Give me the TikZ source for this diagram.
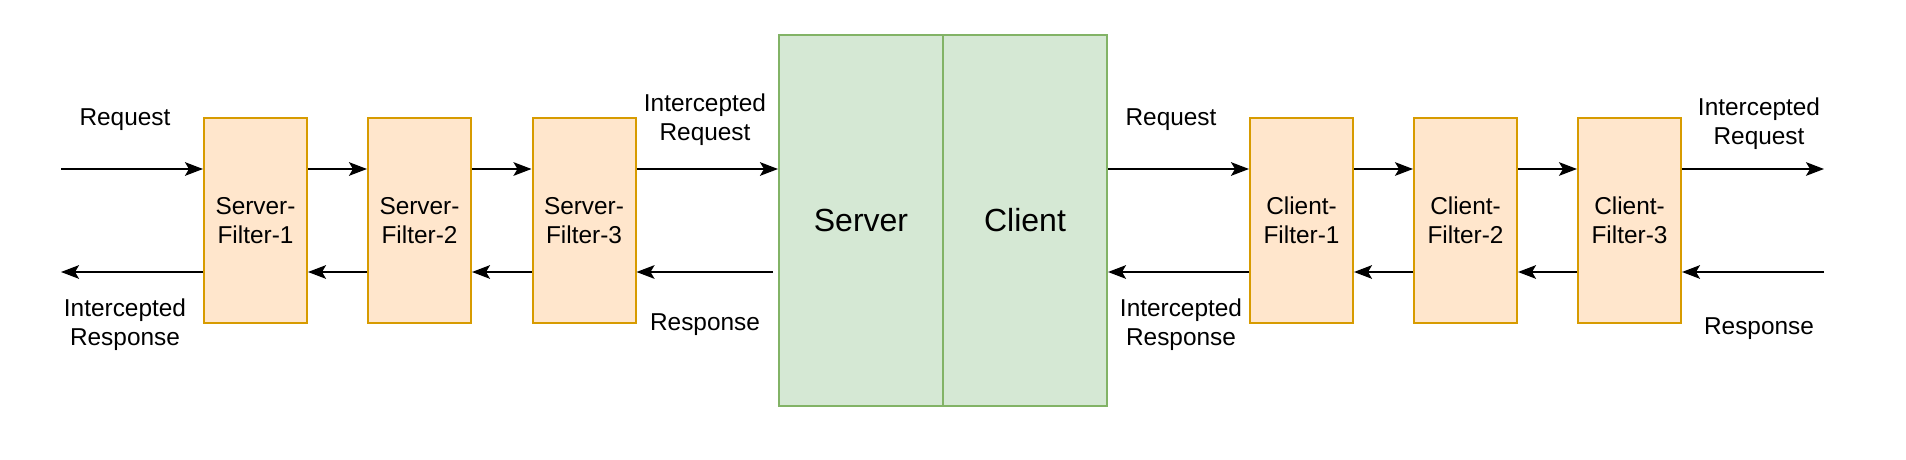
\documentclass[tikz,border=0pt]{standalone}
\usepackage{fontspec}
\setmainfont{Liberation Sans}
\usetikzlibrary{arrows.meta}
\definecolor{ofill}{HTML}{FFE6CC}
\definecolor{odraw}{HTML}{D79B00}
\definecolor{gfill}{HTML}{D5E8D4}
\definecolor{gdraw}{HTML}{82B366}
\begin{document}
\begin{tikzpicture}[x=0.5pt,y=-0.5pt,
  filterbox/.style={draw=odraw,fill=ofill,line width=1pt,minimum width=51.5pt,minimum height=102.5pt,inner sep=0pt,align=center,font=\fontsize{12.2}{14.5}\selectfont},
  mainbox/.style={draw=gdraw,fill=gfill,line width=1pt,minimum width=82pt,minimum height=185.5pt,inner sep=0pt,font=\fontsize{16}{19}\selectfont},
  lbl/.style={align=center,inner sep=0pt,font=\fontsize{12.2}{14.5}\selectfont},
  conn/.style={line width=1pt,-{Stealth[length=9pt,width=6.8pt,inset=2pt]}}]
\useasboundingbox (0,0) rectangle (1906,460);
% main boxes
\node[mainbox] (server) at (861,220.5) {Server};
\node[mainbox] (client) at (1025,220.5) {Client};
% filters
\node[filterbox] (sf1) at (255.5,220.5) {Server-\\Filter-1};
\node[filterbox] (sf2) at (419.5,220.5) {Server-\\Filter-2};
\node[filterbox] (sf3) at (584,220.5) {Server-\\Filter-3};
\node[filterbox] (cf1) at (1301.5,220.5) {Client-\\Filter-1};
\node[filterbox] (cf2) at (1465.5,220.5) {Client-\\Filter-2};
\node[filterbox] (cf3) at (1629.5,220.5) {Client-\\Filter-3};
% free ends
\coordinate (lin) at (61,169);
\coordinate (lout) at (61,272);
\coordinate (rout) at (1824,169);
\coordinate (rin) at (1824,272);
\coordinate (srvresp) at (773,272);
% request path (server side)
\draw[conn] (lin) -- ([yshift=25.75pt]sf1.west);
\draw[conn] ([yshift=25.75pt]sf1.east) -- ([yshift=25.75pt]sf2.west);
\draw[conn] ([yshift=25.75pt]sf2.east) -- ([yshift=25.75pt]sf3.west);
\draw[conn] ([yshift=25.75pt]sf3.east) -- ([yshift=25.75pt]server.west);
% response path (server side)
\draw[conn] (srvresp) -- ([yshift=-25.75pt]sf3.east);
\draw[conn] ([yshift=-25.75pt]sf3.west) -- ([yshift=-25.75pt]sf2.east);
\draw[conn] ([yshift=-25.75pt]sf2.west) -- ([yshift=-25.75pt]sf1.east);
\draw[conn] ([yshift=-25.75pt]sf1.west) -- (lout);
% client side request
\draw[conn] ([yshift=25.75pt]client.east) -- ([yshift=25.75pt]cf1.west);
\draw[conn] ([yshift=25.75pt]cf1.east) -- ([yshift=25.75pt]cf2.west);
\draw[conn] ([yshift=25.75pt]cf2.east) -- ([yshift=25.75pt]cf3.west);
\draw[conn] ([yshift=25.75pt]cf3.east) -- (rout);
% client side response
\draw[conn] (rin) -- ([yshift=-25.75pt]cf3.east);
\draw[conn] ([yshift=-25.75pt]cf3.west) -- ([yshift=-25.75pt]cf2.east);
\draw[conn] ([yshift=-25.75pt]cf2.west) -- ([yshift=-25.75pt]cf1.east);
\draw[conn] ([yshift=-25.75pt]cf1.west) -- ([yshift=-25.75pt]client.east);
% labels
\node[lbl] (l1) at (125,120) {Request};
\node[lbl] (l2) at (125,324.5) {Intercepted\\Response};
\node[lbl] (l3) at (705,119.5) {Intercepted\\Request};
\node[lbl] (l4) at (705,325) {Response};
\node[lbl] (l5) at (1171,120) {Request};
\node[lbl] (l6) at (1181,324.5) {Intercepted\\Response};
\node[lbl] (l7) at (1759,123.5) {Intercepted\\Request};
\node[lbl] (l8) at (1759,329) {Response};
\end{tikzpicture}
\end{document}
